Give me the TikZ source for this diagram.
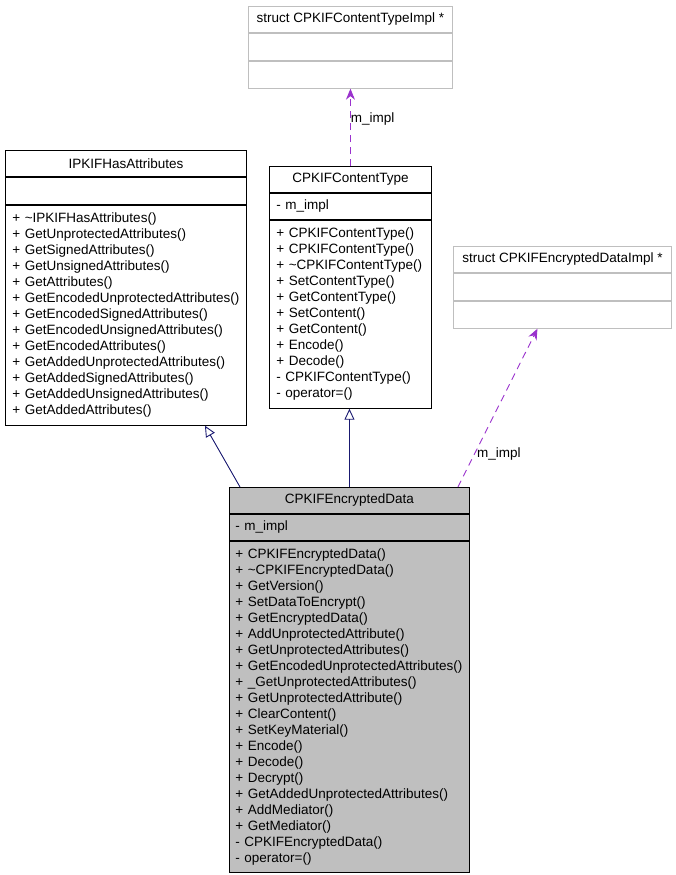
\documentclass[tikz,border=0pt]{standalone}
\usepackage{fontspec}
\setmainfont{Liberation Sans}
\usepackage{tikz}
\usetikzlibrary{arrows.meta, positioning}
\definecolor{edgeblue}{HTML}{191970}
\definecolor{edgepurple}{HTML}{9A32CD}
\definecolor{classgrey}{HTML}{BFBFBF}
\definecolor{structgrey}{HTML}{BFBFBF}
\tikzstyle{classtitle}  = [rectangle, draw=black, inner sep=0pt, minimum height=26pt, text centered]
\tikzstyle{classpart}   = [rectangle, draw=black, inner xsep=7pt, inner ysep=0pt, align=left,
                           execute at begin node={\hyphenpenalty=10000}]
\tikzstyle{structtitle} = [classtitle, draw=structgrey]
\tikzstyle{structpart}  = [classpart, draw=structgrey]
\tikzstyle{inherit}     = [edgeblue, -{Triangle[open, length=11pt, width=10pt]}]
\tikzstyle{usage}       = [edgepurple, dash pattern=on 7pt off 5pt, -{Stealth[length=11pt, width=9pt]}]
\tikzstyle{edgelabel}   = [text=black, anchor=west]
\tikzset{every node/.style={font=\fontsize{13.5}{16}\selectfont}}

\begin{document}
\begin{tikzpicture}[x=1pt, y=-1pt, line width=0.9pt]
    \useasboundingbox (0,0) rectangle (675,875);

    % pointed-to structs
    \node[structtitle, minimum width=204pt, anchor=north west] (ctiT) at (248,6) {struct CPKIFContentTypeImpl *};
    \node[structpart, text width=190pt, minimum height=27pt, below=0pt of ctiT] (ctiA) {};
    \node[structpart, text width=190pt, minimum height=27pt, below=0pt of ctiA] (ctiM) {};

    \node[structtitle, minimum width=218pt, anchor=north west] (ediT) at (453,246) {struct CPKIFEncryptedDataImpl *};
    \node[structpart, text width=204pt, minimum height=27pt, below=0pt of ediT] (ediA) {};
    \node[structpart, text width=204pt, minimum height=27pt, below=0pt of ediA] (ediM) {};

    % base classes
    \node[classtitle, minimum width=241pt, anchor=north west] (haT) at (5,150) {IPKIFHasAttributes};
    \node[classpart, text width=227pt, minimum height=27pt, below=0pt of haT] (haA) {};
    \node[classpart, text width=227pt, minimum height=220pt, below=0pt of haA] (haM) {%
        + \textasciitilde IPKIFHasAttributes()\\
        + GetUnprotectedAttributes()\\
        + GetSignedAttributes()\\
        + GetUnsignedAttributes()\\
        + GetAttributes()\\
        + GetEncodedUnprotectedAttributes()\\
        + GetEncodedSignedAttributes()\\
        + GetEncodedUnsignedAttributes()\\
        + GetEncodedAttributes()\\
        + GetAddedUnprotectedAttributes()\\
        + GetAddedSignedAttributes()\\
        + GetAddedUnsignedAttributes()\\
        + GetAddedAttributes()};

    \node[classtitle, minimum width=162pt, anchor=north west] (ctT) at (269,166) {CPKIFContentType};
    \node[classpart, text width=148pt, minimum height=26pt, below=0pt of ctT] (ctA) {- m\_impl};
    \node[classpart, text width=148pt, minimum height=188pt, below=0pt of ctA] (ctM) {%
        + CPKIFContentType()\\
        + CPKIFContentType()\\
        + \textasciitilde CPKIFContentType()\\
        + SetContentType()\\
        + GetContentType()\\
        + SetContent()\\
        + GetContent()\\
        + Encode()\\
        + Decode()\\
        - CPKIFContentType()\\
        - operator=()};

    % derived class
    \node[classtitle, fill=classgrey, minimum width=240pt, anchor=north west] (encT) at (229,487) {CPKIFEncryptedData};
    \node[classpart, fill=classgrey, inner xsep=6pt, text width=228pt, minimum height=26pt, below=0pt of encT] (encA) {- m\_impl};
    \node[classpart, fill=classgrey, inner xsep=6pt, text width=228pt, minimum height=331pt, below=0pt of encA] (encM) {%
        + CPKIFEncryptedData()\\
        + \textasciitilde CPKIFEncryptedData()\\
        + GetVersion()\\
        + SetDataToEncrypt()\\
        + GetEncryptedData()\\
        + AddUnprotectedAttribute()\\
        + GetUnprotectedAttributes()\\
        + GetEncodedUnprotectedAttributes()\\
        + \_GetUnprotectedAttributes()\\
        + GetUnprotectedAttribute()\\
        + ClearContent()\\
        + SetKeyMaterial()\\
        + Encode()\\
        + Decode()\\
        + Decrypt()\\
        + GetAddedUnprotectedAttributes()\\
        + AddMediator()\\
        + GetMediator()\\
        - CPKIFEncryptedData()\\
        - operator=()};

    \draw [inherit] ([xshift=11pt]encT.north west) -- ([xshift=79pt]haM.south);
    \draw [inherit] (encT.north) -- (encT.north |- ctM.south);
    \draw [usage] (ctT.north) -- node[edgelabel, pos=0.61, inner sep=0pt]{m\_impl} (ctiM.south);
    \draw [usage] ([xshift=-12pt]encT.north east) -- node[edgelabel, pos=0.21, inner sep=2pt]{m\_impl} ([xshift=-25pt]ediM.south);
\end{tikzpicture}
\end{document}
